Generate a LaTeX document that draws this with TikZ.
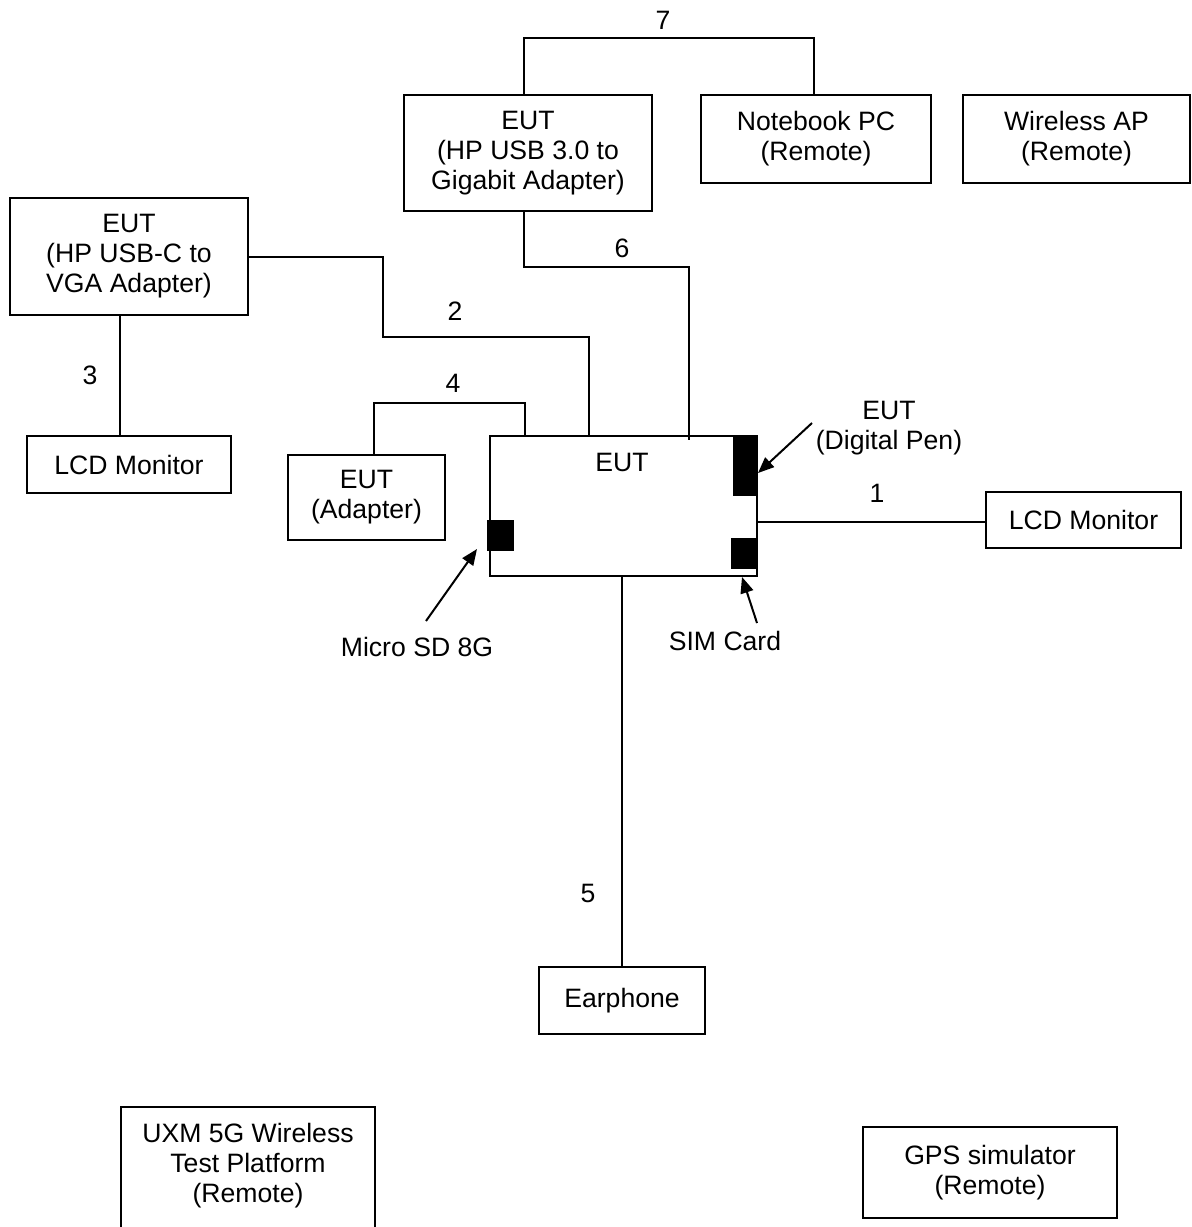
\documentclass[tikz,border=0pt]{standalone}
\usepackage{fontspec}
\setmainfont{Liberation Sans}
\usetikzlibrary{arrows.meta}
\begin{document}
\begin{tikzpicture}[x=0.5pt,y=-0.5pt,
  box/.style={draw,line width=1pt,align=center,inner sep=0pt,font=\fontsize{13.3pt}{15pt}\selectfont},
  lbl/.style={align=center,inner sep=0pt,font=\fontsize{13.3pt}{15pt}\selectfont},
  cable/.style={line width=1pt},
  pointer/.style={line width=1pt,-{Triangle[length=8pt,width=6.5pt]}},
  chip/.style={fill=black,draw=none,inner sep=0pt}]
\useasboundingbox (0,0) rectangle (1191,1227);
\fill[white] (0,0) rectangle (1191,1227);
\clip (0,0) rectangle (1191,1227);

% boxes
\node[box,minimum width=133.5pt,minimum height=70pt] (eut) at (623.5,506) {};
\node[lbl] (eutlbl) at (622,462) {EUT};
\node[box,minimum width=119pt,minimum height=58.5pt] (vga) at (129,256.5) {EUT\\(HP USB-C to\\VGA Adapter)};
\node[box,minimum width=102pt,minimum height=28.5pt] (lcda) at (129,464.5) {LCD Monitor};
\node[box,minimum width=78.5pt,minimum height=42.5pt] (adp) at (366.5,497.5) {EUT\\(Adapter)};
\node[box,minimum width=124pt,minimum height=58pt] (usb) at (528,153) {EUT\\(HP USB 3.0 to\\Gigabit Adapter)};
\node[box,minimum width=115pt,minimum height=44pt] (nb) at (816,139) {Notebook PC\\(Remote)};
\node[box,minimum width=113.5pt,minimum height=44pt] (wap) at (1076.5,139) {Wireless AP\\(Remote)};
\node[box,minimum width=97.5pt,minimum height=28pt] (lcdb) at (1083.5,520) {LCD Monitor};
\node[box,minimum width=83pt,minimum height=33.5pt] (ear) at (622,1000.5) {Earphone};
\node[box,minimum width=127pt,minimum height=64pt] (uxm) at (248,1171) {};
\node[lbl] (uxmlbl) at (248,1166) {UXM 5G Wireless\\Test Platform\\(Remote)};
\node[box,minimum width=127pt,minimum height=45.5pt] (gps) at (990,1172.5) {GPS simulator\\(Remote)};

% chips on EUT
\node[chip,minimum width=12pt,minimum height=29.5pt] (pen) at (745,466.5) {};
\node[chip,minimum width=13pt,minimum height=15.5pt] (sim) at (744,553.5) {};
\node[chip,minimum width=13.5pt,minimum height=15.5pt] (sd) at (500.5,535.5) {};

% helper coordinates
\coordinate (x120) at (120,0);
\coordinate (x374) at (374,0);
\coordinate (x524) at (524,0);
\coordinate (x525) at (525,0);
\coordinate (x589) at (589,0);
\coordinate (x622) at (622,0);
\coordinate (x814) at (814,0);
\coordinate (c7) at (524,38);
\coordinate (c6) at (689,267);
\coordinate (c2a) at (383,257);
\coordinate (c2b) at (589,337);
\coordinate (c4) at (374,403);
\coordinate (y522) at (0,522);
\coordinate (c6end) at (689,440);

% cables
\draw[cable] (usb.north -| x524) |- (c7) -| (nb.north -| x814);
\draw[cable] (usb.south -| x524) |- (c6) -- (c6end);
\draw[cable] (vga.east |- c2a) -- (c2a) |- (c2b) -- (eut.north -| x589);
\draw[cable] (eut.north -| x525) |- (c4) -- (adp.north -| x374);
\draw[cable] (vga.south -| x120) -- (lcda.north -| x120);
\draw[cable] (eut.east |- y522) -- (lcdb.west |- y522);
\draw[cable] (eut.south -| x622) -- (ear.north -| x622);

% cable numbers
\node[lbl] (n7) at (663,20) {7};
\node[lbl] (n6) at (622,248) {6};
\node[lbl] (n2) at (455,311) {2};
\node[lbl] (n4) at (453,383) {4};
\node[lbl] (n3) at (90,375) {3};
\node[lbl] (n1) at (877,493) {1};
\node[lbl] (n5) at (588,893) {5};

% pointers
\node[lbl] (penlbl) at (889,428) {EUT\\(Digital Pen)};
\node[lbl] (simlbl) at (725,641) {SIM Card};
\node[lbl] (sdlbl) at (417,647) {Micro SD 8G};
\coordinate (pa) at (812,423);
\coordinate (pb) at (758,473);
\coordinate (sa) at (757,623);
\coordinate (sb) at (742,577);
\coordinate (da) at (426,621);
\coordinate (db) at (477,549);
\draw[pointer] (pa) -- (pb);
\draw[pointer] (sa) -- (sb);
\draw[pointer] (da) -- (db);
\end{tikzpicture}
\end{document}
